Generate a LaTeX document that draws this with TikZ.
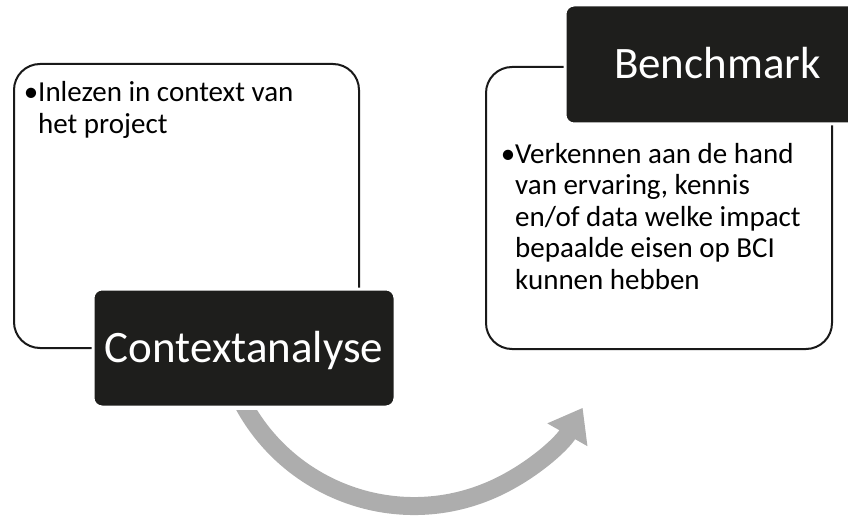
\documentclass[tikz,border=0pt]{standalone}
\usepackage{fontspec}
\setmainfont{Carlito}
\usetikzlibrary{arrows.meta}
\definecolor{titlefill}{HTML}{1E1E1C}
\definecolor{arcgray}{HTML}{ADADAD}
\tikzstyle{card}=[draw=black!90, line width=2pt, rounded corners=26pt, fill=white]
\tikzstyle{titlebox}=[draw=white, line width=3pt, fill=titlefill, rounded corners=9pt, text=white, text height=29pt, text depth=0pt, font=\fontsize{45}{54}\selectfont]
\tikzstyle{bullettext}=[anchor=base west, align=left, inner sep=0pt, font=\fontsize{29}{31.5}\selectfont]
\tikzstyle{cyclearrow}=[arcgray, line width=18pt, -{Triangle[length=31pt, width=44pt]}]

\begin{document}
\begin{tikzpicture}[x=1pt, y=-1pt]
    \useasboundingbox (0,0) rectangle (848,516);
    \node[card, minimum width=345pt, minimum height=284pt] (contextcard) at (186.5,206) {};
    \node[card, minimum width=346pt, minimum height=282pt] (benchcard) at (659,208) {};
    \node[bullettext] (contexttext) at (38,133) {\llap{•}Inlezen in context van\\het project};
    \node[bullettext] (benchtext) at (515,289) {\llap{•}Verkennen aan de hand\\van ervaring, kennis\\en/of data welke impact\\bepaalde eisen op BCI\\kunnen hebben};
    \begin{scope}
        \clip (0,410) -- (420,410) -- (420,0) -- (848,0) -- (848,516) -- (0,516) -- cycle;
        \draw[cyclearrow] (414,312) ++(156:194) arc[start angle=156, end angle=29.6, radius=194];
    \end{scope}
    \node[titlebox, minimum width=302pt, minimum height=118pt] (contexttitle) at (244,348) {Contextanalyse};
    \node[titlebox, minimum width=305pt, minimum height=119pt] (benchtitle) at (717.5,64.5) {Benchmark};
\end{tikzpicture}
\end{document}
